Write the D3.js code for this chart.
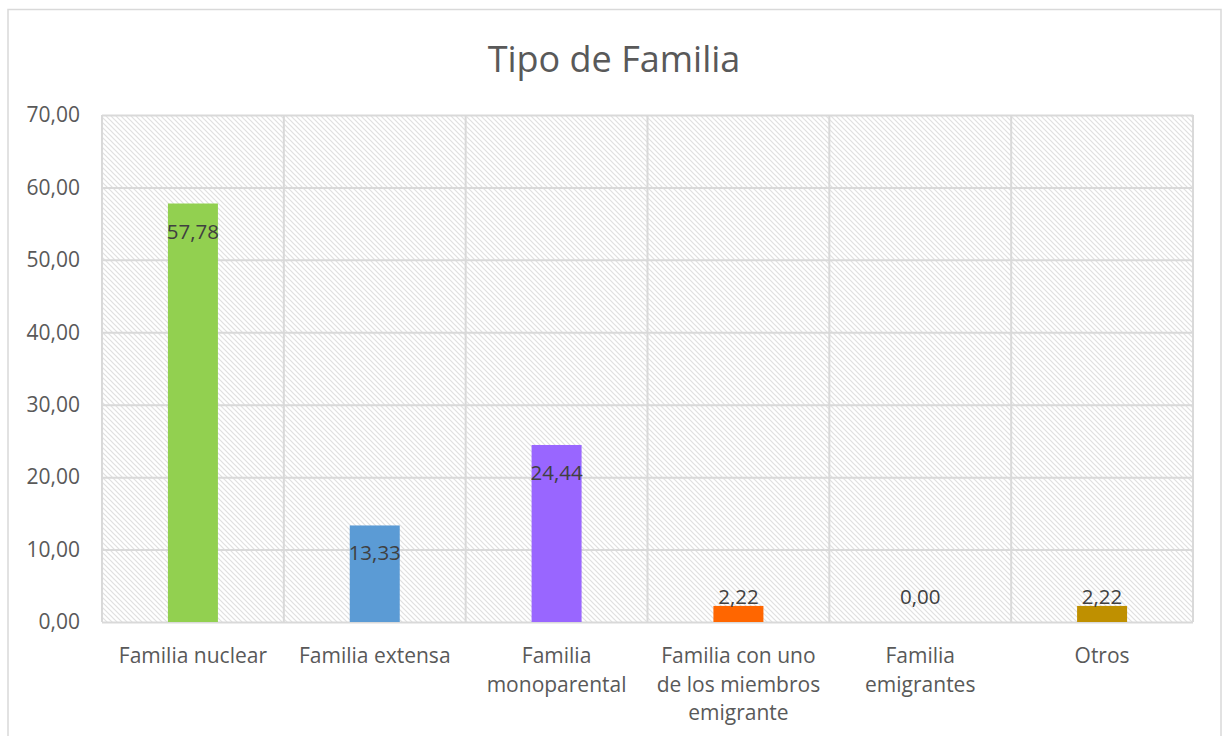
<!DOCTYPE html>
<html>
<head>
<meta charset="utf-8">
<script src="https://cdn.jsdelivr.net/npm/d3@7"></script>
<style>
  body { margin: 0; background: #fff; }
  text { font-family: "Open Sans", sans-serif; }
</style>
</head>
<body>
<script>
'use strict';

// chart data
const categories = [
  "Familia nuclear",
  "Familia extensa",
  "Familia\nmonoparental",
  "Familia con uno\nde los miembros\nemigrante",
  "Familia\nemigrantes",
  "Otros"
];
const values = [57.78, 13.33, 24.44, 2.22, 0.00, 2.22];
const barColors = ["#92d050", "#5b9bd5", "#9966ff", "#ff6600", "#ffc000", "#bf9000"];
const yTicks = [0, 10, 20, 30, 40, 50, 60, 70];
const title = "Tipo de Familia";

(function () {
  const width = 1223, height = 736;
  const plot = { left: 102, top: 115, right: 1193, bottom: 622 };
  const fmt = (v) => v.toFixed(2).replace('.', ',');

  const svg = d3.select('body').append('svg')
    .attr('width', width)
    .attr('height', height);

  // hatch pattern for plot background
  const defs = svg.append('defs');
  const pat = defs.append('pattern')
    .attr('id', 'hatch')
    .attr('patternUnits', 'userSpaceOnUse')
    .attr('width', 5)
    .attr('height', 5);
  pat.append('rect').attr('width', 5).attr('height', 5).attr('fill', '#ffffff');
  pat.append('path')
    .attr('d', 'M-1,-1 L6,6 M-1,4 L1,6 M4,-1 L6,1')
    .attr('stroke', '#e0e0e0')
    .attr('stroke-width', 1.2);

  // outer chart border
  svg.append('rect')
    .attr('x', 8).attr('y', 9.5)
    .attr('width', 1213).attr('height', 740)
    .attr('fill', '#fff')
    .attr('stroke', '#d9d9d9')
    .attr('stroke-width', 1.5);

  svg.append('text')
    .attr('x', 614)
    .attr('y', 72)
    .attr('text-anchor', 'middle')
    .attr('fill', '#595959')
    .style('font-size', '36px')
    .text(title);

  const xScale = d3.scaleBand()
    .domain(categories)
    .range([plot.left, plot.right])
    .paddingInner(0)
    .paddingOuter(0);

  const yScale = d3.scaleLinear()
    .domain([0, 70])
    .range([plot.bottom, plot.top]);

  // background
  svg.append('rect')
    .attr('x', plot.left).attr('y', plot.top)
    .attr('width', plot.right - plot.left)
    .attr('height', plot.bottom - plot.top)
    .attr('fill', 'url(#hatch)');

  // horizontal grid
  svg.append('g')
    .attr('transform', `translate(${plot.left},0)`)
    .call(d3.axisLeft(yScale).tickValues(yTicks).tickSize(-(plot.right - plot.left)).tickFormat(''))
    .call(g => g.select('.domain').remove())
    .selectAll('line')
    .attr('stroke', '#d9d9d9')
    .attr('stroke-width', 2);

  // vertical grid at category boundaries
  const bounds = categories.map(c => xScale(c)).concat([plot.right]);
  svg.append('g').selectAll('line')
    .data(bounds)
    .enter()
    .append('line')
    .attr('x1', d => d).attr('x2', d => d)
    .attr('y1', plot.top).attr('y2', plot.bottom)
    .attr('stroke', '#d9d9d9')
    .attr('stroke-width', 2);

  // y-axis labels
  svg.append('g')
    .attr('transform', `translate(${plot.left},0)`)
    .call(d3.axisLeft(yScale).tickValues(yTicks).tickSize(0).tickPadding(22).tickFormat(fmt))
    .call(g => g.select('.domain').remove())
    .selectAll('text')
    .attr('fill', '#595959')
    .style('font-family', '"Open Sans", sans-serif')
    .style('font-size', '21px');

  // bars
  const barW = 50;
  const data = categories.map((c, i) => ({ c: c, v: values[i], color: barColors[i] }));
  svg.append('g').selectAll('rect')
    .data(data)
    .enter()
    .append('rect')
    .attr('x', d => xScale(d.c) + xScale.bandwidth() / 2 - barW / 2)
    .attr('y', d => yScale(d.v))
    .attr('width', barW)
    .attr('height', d => yScale(0) - yScale(d.v))
    .attr('fill', d => d.color);

  // value labels: inside end for tall bars, above for short ones
  svg.append('g').selectAll('text')
    .data(data)
    .enter()
    .append('text')
    .attr('x', d => xScale(d.c) + xScale.bandwidth() / 2)
    .attr('y', d => {
      const top = yScale(d.v);
      return (yScale(0) - top) > 40 ? top + 35 : Math.min(top - 2, yScale(0) - 18);
    })
    .attr('text-anchor', 'middle')
    .attr('fill', '#404040')
    .style('font-size', '20.5px')
    .text(d => fmt(d.v));

  // x-axis category labels
  const xl = svg.append('g').selectAll('text')
    .data(categories)
    .enter()
    .append('text')
    .attr('x', d => xScale(d) + xScale.bandwidth() / 2)
    .attr('y', 663)
    .attr('text-anchor', 'middle')
    .attr('fill', '#595959')
    .style('font-size', '21px');
  xl.each(function (d) {
    const t = d3.select(this);
    d.split('\n').forEach((line, i) => {
      t.append('tspan')
        .attr('x', xScale(d) + xScale.bandwidth() / 2)
        .attr('dy', i === 0 ? 0 : 28.5)
        .text(line);
    });
  });
})();
</script>
</body>
</html>
